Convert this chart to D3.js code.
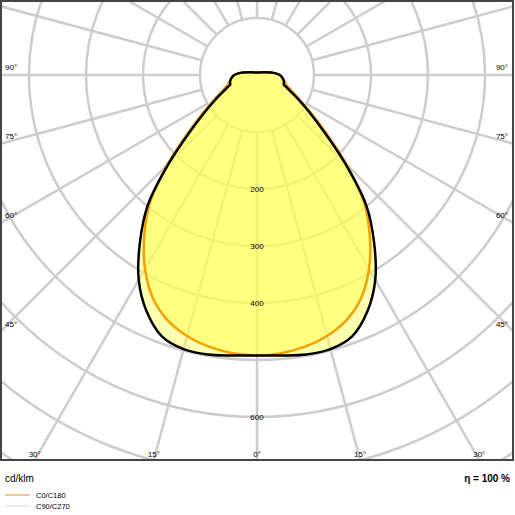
<!DOCTYPE html>
<html><head><meta charset="utf-8">
<script src="https://cdn.jsdelivr.net/npm/d3@7"></script>
<style>body{margin:0;background:#fff}svg{font-family:"Liberation Sans",Arial,sans-serif}</style>
</head><body><svg width="515" height="515"></svg>
<script>
// gamma angles (deg from nadir) and intensities in cd/klm
const angles = [0,5,10,15,20,25,30,35,40,45,50,55,60,65,68,70,75,80,85,90,95,100,110,130,155,180];
const c90 = [492,494,498,498,488,458,415,358,298,218,152,110,82,62,55,50,49,47,44,40,33,25,14,7,5,4.5];
const c0 = [492,490,484,474,458,432,393,345,292,222,158,115,86,68,61,56,51,47,44,40,33,25,14,7,5,4.5];
const rings = [100,200,300,400,500,600,700,800];
const ringLabels = [200,300,400,600];
const sideLabels = [90,75,60,45];
const bottomLabels = [30,15,0,15,30];

const svg = d3.select('svg');
const cx = 257, cy = 75, W = 513, H = 460;
const r = d3.scaleLinear().domain([0,100]).range([0,57]);

svg.append('clipPath').attr('id','frame').append('rect').attr('x',1).attr('y',1).attr('width',W-1).attr('height',H-1);
const g = svg.append('g').attr('clip-path','url(#frame)');

// curves: angle measured from downward vertical, both sides mirrored
function shape(vals) {
  const pts = angles.map((a,i) => [a, vals[i]]);
  const full = pts.map(([a,v]) => [-a, v]).reverse().concat(pts.slice(1, -1).map(([a,v]) => [a, v]));
  return d3.line()
    .x(([a,v]) => cx + r(v)*Math.sin(a*Math.PI/180))
    .y(([a,v]) => cy + r(v)*Math.cos(a*Math.PI/180))
    .curve(d3.curveCatmullRomClosed)(full);
}

const grid = g.append('g').attr('stroke','#cdcdcd').attr('stroke-width',2.5).attr('fill','none');
grid.selectAll('circle').data(rings).join('circle').attr('cx',cx).attr('cy',cy).attr('r',d => r(d));
d3.range(0,360,15).forEach(a => {
  const t = a*Math.PI/180;
  grid.append('line').attr('x1',cx+r(100)*Math.sin(t)).attr('y1',cy+r(100)*Math.cos(t))
    .attr('x2',cx+900*Math.sin(t)).attr('y2',cy+900*Math.cos(t));
});

g.append('path').attr('d',shape(c90)).attr('fill','#ffff50').attr('fill-opacity',0.45);
g.append('path').attr('d',shape(c0)).attr('fill','#ffff50').attr('fill-opacity',0.5);
g.append('path').attr('d',shape(c0)).attr('fill','none').attr('stroke','#f5a000').attr('stroke-width',2.5);
g.append('path').attr('d',shape(c90)).attr('fill','none').attr('stroke','#000').attr('stroke-width',2.5);

svg.append('rect').attr('x',1).attr('y',1).attr('width',W-1).attr('height',H-1)
  .attr('fill','none').attr('stroke','#444').attr('stroke-width',2);

const txt = svg.append('g').attr('font-size',8).attr('fill','#000');
txt.selectAll('.rl').data(ringLabels).join('text').attr('x',cx).attr('y',d => cy + r(d) + 3)
  .attr('text-anchor','middle').text(d => d);
sideLabels.forEach(a => {
  const y = cy + (cx) / Math.tan(a*Math.PI/180) - 5;
  txt.append('text').attr('x',5).attr('y',y).text(a + '°');
  txt.append('text').attr('x',W-5).attr('y',y).attr('text-anchor','end').text(a + '°');
});
bottomLabels.forEach((a,i) => {
  const s = i < 2 ? -1 : 1;
  const x = cx + s*(H-cy)*Math.tan(a*Math.PI/180);
  txt.append('text').attr('x',x).attr('y',H-3).attr('text-anchor','middle').text(a + '°');
});

svg.append('text').attr('x',5).attr('y',482).attr('font-size',10).text('cd/klm');
svg.append('text').attr('x',510).attr('y',482).attr('font-size',10).attr('font-weight','bold').attr('text-anchor','end').text('η = 100 %');
const legend = [['C0/C180','#e8b860'],['C90/C270','#e8e8e8']];
legend.forEach(([name,col],i) => {
  const y = 495 + i*11;
  svg.append('line').attr('x1',5).attr('x2',30).attr('y1',y).attr('y2',y).attr('stroke',col).attr('stroke-width',1.5);
  svg.append('text').attr('x',36).attr('y',y+3).attr('font-size',7.5).text(name);
});
</script></body></html>
